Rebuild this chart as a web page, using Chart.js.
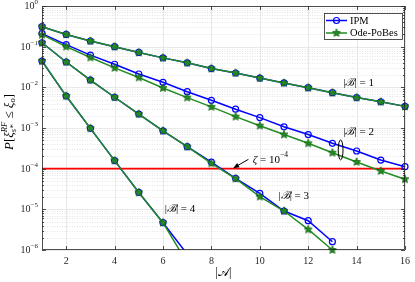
<!DOCTYPE html>
<html>
<head>
<meta charset="utf-8">
<script src="https://cdn.jsdelivr.net/npm/chart.js@4"></script>
<style>
  html, body { margin: 0; padding: 0; background: #fff; }
  #wrap { width: 415px; height: 282px; }
</style>
</head>
<body>
<div id="wrap"><canvas id="chart" width="415" height="282"></canvas></div>
<script>
(function () {
  'use strict';

  // ---- data ----
  const xVals = [1, 2, 3, 4, 5, 6, 7, 8, 9, 10, 11, 12, 13, 14, 15, 16];
  const xTicks = [2, 4, 6, 8, 10, 12, 14, 16];
  const yTickExps = [0, -1, -2, -3, -4, -5, -6];
  const zeta = 1e-4;

  // |B| = 1
  const ipmB1 = [0.31, 0.20, 0.138, 0.100, 0.072, 0.053, 0.040, 0.029, 0.0225, 0.0169, 0.0128, 0.0098, 0.0074, 0.0056, 0.0044, 0.0034];
  const odeB1 = [0.31, 0.20, 0.138, 0.100, 0.072, 0.053, 0.040, 0.029, 0.0225, 0.0169, 0.0128, 0.0098, 0.0074, 0.0056, 0.0044, 0.0034];
  // |B| = 2
  const ipmB2 = [0.21, 0.112, 0.062, 0.037, 0.0213, 0.0133, 0.0078, 0.0048, 0.0029, 0.0018, 0.00107, 0.00069, 0.00042, 0.000272, 0.000163, 0.000112];
  const odeB2 = [0.197, 0.100, 0.054, 0.030, 0.0174, 0.0096, 0.0056, 0.0033, 0.0019, 0.00114, 0.00069, 0.00042, 0.000247, 0.000146, 0.0000877, 0.000055];
  // |B| = 3
  const ipmB3 = [0.125, 0.042, 0.0151, 0.0057, 0.0022, 0.00085, 0.000347, 0.000145, 0.0000578, 0.0000246, 0.0000091, 0.00000525, 0.0000016];
  const odeB3 = [0.125, 0.042, 0.0151, 0.0057, 0.0022, 0.00085, 0.000347, 0.000135, 0.0000570, 0.0000205, 0.0000091, 0.0000032, 0.0000010];
  // |B| = 4
  const ipmB4 = [0.0444, 0.0061, 0.00098, 0.000158, 0.000026, 0.0000047, 0.00000079];
  const odeB4 = [0.0444, 0.0061, 0.00098, 0.000158, 0.000026, 0.0000047, 0.00000048];

  const BLUE = '#0000ff';
  const GREEN = '#228b22';
  const RED = '#ff0000';
  const AXIS = '#262626';
  const SERIF = '"Liberation Serif", "DejaVu Serif", serif';

  const pts = arr => arr.map((v, i) => ({ x: xVals[i], y: v }));

  // filled pentagram marker (matlab 'p')
  function starMarker(r, fill, stroke) {
    const s = Math.ceil(r * 2 + 3);
    const c = document.createElement('canvas');
    c.width = s; c.height = s;
    const g = c.getContext('2d');
    g.beginPath();
    for (let i = 0; i < 10; i++) {
      const a = -Math.PI / 2 + i * Math.PI / 5;
      const rr = i % 2 ? r * 0.45 : r;
      g.lineTo(s / 2 + rr * Math.cos(a), s / 2 + rr * Math.sin(a));
    }
    g.closePath();
    g.fillStyle = fill; g.fill();
    g.lineWidth = 0.8; g.strokeStyle = stroke; g.stroke();
    return c;
  }
  const star = starMarker(4.2, GREEN, '#146414');

  const ipm = (data, clipBottom) => ({
    data: pts(data), borderColor: BLUE, borderWidth: 1.5,
    pointStyle: 'circle', pointRadius: 3, pointBorderWidth: 1.2,
    pointBorderColor: BLUE, pointBackgroundColor: 'rgba(255,255,255,0)',
    clip: { left: 6, right: 6, top: 6, bottom: clipBottom }, order: 2
  });
  const ode = (data, clipBottom) => ({
    data: pts(data), borderColor: GREEN, borderWidth: 1.5,
    pointStyle: star, pointRadius: 4,
    clip: { left: 6, right: 6, top: 6, bottom: clipBottom }, order: 1
  });

  // ---- rich text helpers ----
  const fontOf = r => (r.it ? 'italic ' : '') + r.size + 'px ' + SERIF;
  function drawRuns(ctx, runs, x0, y0, align) {
    let x = 0, held = 0;
    const placed = [];
    runs.forEach(r => {
      ctx.font = fontOf(r);
      const w = ctx.measureText(r.t).width;
      placed.push({ r, x });
      if (r.stack) held = w;
      else { x += Math.max(w, held); held = 0; }
    });
    const sx = align === 'center' ? x0 - x / 2 : align === 'right' ? x0 - x : x0;
    ctx.textAlign = 'left';
    ctx.textBaseline = 'middle';
    placed.forEach(p => {
      ctx.font = fontOf(p.r);
      ctx.fillText(p.r.t, sx + p.x, y0 + (p.r.dy || 0));
    });
  }

  const bLabel = n => [
    { t: '|', size: 11 }, { t: 'ℬ', size: 11, it: true }, { t: '| = ' + n, size: 11 }
  ];
  const curveLabels = [
    { runs: bLabel(1), x: 13.45, y: Math.pow(10, -1.89) },
    { runs: bLabel(2), x: 13.45, y: Math.pow(10, -3.11) },
    { runs: bLabel(3), x: 10.77, y: Math.pow(10, -4.67) },
    { runs: bLabel(4), x: 6.07, y: Math.pow(10, -5.0) }
  ];

  const decor = {
    id: 'decor',
    beforeDatasetsDraw(chart) {
      const { ctx, chartArea: a, scales: { x, y } } = chart;
      ctx.save();
      // minor grid (dotted)
      ctx.strokeStyle = '#d4d4d4';
      ctx.lineWidth = 0.6;
      ctx.setLineDash([1, 1.5]);
      for (let k = -6; k < 0; k++) {
        for (let m = 2; m <= 9; m++) {
          const py = Math.round(y.getPixelForValue(m * Math.pow(10, k))) + 0.5;
          ctx.beginPath(); ctx.moveTo(a.left, py); ctx.lineTo(a.right, py); ctx.stroke();
        }
      }
      // major grid
      ctx.setLineDash([]);
      ctx.strokeStyle = '#e2e2e2';
      ctx.lineWidth = 0.8;
      yTickExps.forEach(e => {
        const py = Math.round(y.getPixelForValue(Math.pow(10, e))) + 0.5;
        ctx.beginPath(); ctx.moveTo(a.left, py); ctx.lineTo(a.right, py); ctx.stroke();
      });
      xTicks.forEach(v => {
        const px = Math.round(x.getPixelForValue(v)) + 0.5;
        ctx.beginPath(); ctx.moveTo(px, a.top); ctx.lineTo(px, a.bottom); ctx.stroke();
      });
      ctx.restore();
    },
    afterDatasetsDraw(chart) {
      const { ctx, chartArea: a, scales: { x, y } } = chart;
      ctx.save();
      // box + inward ticks
      ctx.strokeStyle = AXIS;
      ctx.lineWidth = 0.8;
      ctx.strokeRect(a.left + 0.5, a.top + 0.5, a.right - a.left - 1, a.bottom - a.top - 1);
      const tick = (x1, y1, x2, y2) => { ctx.beginPath(); ctx.moveTo(x1, y1); ctx.lineTo(x2, y2); ctx.stroke(); };
      xTicks.forEach(v => {
        const px = Math.round(x.getPixelForValue(v)) + 0.5;
        tick(px, a.bottom, px, a.bottom - 4);
        tick(px, a.top, px, a.top + 4);
      });
      for (let k = -6; k <= 0; k++) {
        for (let m = 1; m <= 9; m++) {
          const v = m * Math.pow(10, k);
          if (v > 1) break;
          const py = Math.round(y.getPixelForValue(v)) + 0.5;
          const len = m === 1 ? 4 : 2;
          tick(a.left, py, a.left + len, py);
          tick(a.right, py, a.right - len, py);
        }
      }

      // y tick labels 10^k
      ctx.fillStyle = AXIS;
      yTickExps.forEach(e => {
        const py = y.getPixelForValue(Math.pow(10, e));
        drawRuns(ctx, [
          { t: '10', size: 10 },
          { t: e === 0 ? '0' : '\u2212' + (-e), size: 7, dy: -4.5 }
        ], a.left - 4, py + 0.5, 'right');
      });

      // axis titles
      ctx.fillStyle = '#000';
      drawRuns(ctx, [{ t: '|', size: 12 }, { t: '\uD835\uDC9C', size: 12 }, { t: '|', size: 12 }],
        (a.left + a.right) / 2, 273, 'center');
      ctx.save();
      ctx.translate(10, 122);
      ctx.rotate(-Math.PI / 2);
      drawRuns(ctx, [
        { t: 'P', size: 13, it: true }, { t: '[', size: 13 }, { t: 'ξ', size: 13, it: true },
        { t: 'RF', size: 8.5, it: true, dy: -5, stack: true }, { t: 's*', size: 8.5, it: true, dy: 4 },
        { t: ' ≤ ', size: 13 }, { t: 'ξ', size: 13, it: true }, { t: 'o', size: 8.5, it: true, dy: 3 },
        { t: ']', size: 13 }
      ], 0, 0, 'center');
      ctx.restore();

      // curve labels
      curveLabels.forEach(l => drawRuns(ctx, l.runs, x.getPixelForValue(l.x), y.getPixelForValue(l.y), 'left'));

      // ellipse around |B| = 2 curves
      ctx.strokeStyle = '#000';
      ctx.lineWidth = 1;
      ctx.beginPath();
      ctx.ellipse(x.getPixelForValue(13.34), y.getPixelForValue(2.9e-4), 2.4, 10, 0, 0, Math.PI * 2);
      ctx.stroke();

      // zeta annotation + arrow
      const tx = x.getPixelForValue(9.53), ty = y.getPixelForValue(Math.pow(10, -3.77));
      const hx = x.getPixelForValue(8.9), hy = y.getPixelForValue(1.03e-4);
      const ang = Math.atan2(hy - ty, hx - tx);
      ctx.beginPath(); ctx.moveTo(tx, ty); ctx.lineTo(hx - 4 * Math.cos(ang), hy - 4 * Math.sin(ang)); ctx.stroke();
      ctx.fillStyle = '#000';
      ctx.beginPath();
      ctx.moveTo(hx, hy);
      ctx.lineTo(hx - 6 * Math.cos(ang) + 2.5 * Math.sin(ang), hy - 6 * Math.sin(ang) - 2.5 * Math.cos(ang));
      ctx.lineTo(hx - 6 * Math.cos(ang) - 2.5 * Math.sin(ang), hy - 6 * Math.sin(ang) + 2.5 * Math.cos(ang));
      ctx.closePath(); ctx.fill();
      drawRuns(ctx, [
        { t: 'ζ', size: 11, it: true }, { t: ' = 10', size: 11 }, { t: '\u22124', size: 7.5, dy: -4.5 }
      ], x.getPixelForValue(9.71), y.getPixelForValue(Math.pow(10, -3.787)), 'left');

      // legend
      const L = { l: 324, t: 13, r: 403, b: 40 };
      ctx.fillStyle = '#fff';
      ctx.fillRect(L.l, L.t, L.r - L.l, L.b - L.t);
      ctx.strokeStyle = AXIS;
      ctx.lineWidth = 0.8;
      ctx.strokeRect(L.l + 0.5, L.t + 0.5, L.r - L.l - 1, L.b - L.t - 1);
      const rows = [
        { label: 'IPM', color: BLUE, y: 20.5, marker: 'circle' },
        { label: 'Ode-PoBes', color: GREEN, y: 33, marker: 'star' }
      ];
      rows.forEach(rw => {
        ctx.strokeStyle = rw.color;
        ctx.lineWidth = 1.5;
        ctx.beginPath(); ctx.moveTo(326, rw.y); ctx.lineTo(347, rw.y); ctx.stroke();
        if (rw.marker === 'circle') {
          ctx.lineWidth = 1.2;
          ctx.beginPath(); ctx.arc(336.5, rw.y, 3, 0, Math.PI * 2); ctx.stroke();
        } else {
          ctx.drawImage(star, 336.5 - star.width / 2, rw.y - star.height / 2);
        }
        ctx.fillStyle = '#000';
        drawRuns(ctx, [{ t: rw.label, size: 10.5 }], 350, rw.y + 0.5, 'left');
      });
      ctx.restore();
    }
  };

  new Chart(document.getElementById('chart'), {
    type: 'line',
    data: {
      datasets: [
        ipm(ipmB1, 6), ode(odeB1, 6),
        ipm(ipmB2, 6), ode(odeB2, 6),
        ipm(ipmB3, 6), ode(odeB3, 6),
        ipm(ipmB4, 0), ode(odeB4, 0),
        {
          data: [{ x: xVals[0], y: zeta }, { x: xVals[xVals.length - 1], y: zeta }],
          borderColor: RED, borderWidth: 1.8, pointRadius: 0, order: 3
        }
      ]
    },
    options: {
      responsive: false,
      animation: false,
      events: [],
      layout: { padding: { top: 6, right: 5, left: 0, bottom: 0 } },
      plugins: { legend: { display: false }, tooltip: { enabled: false } },
      scales: {
        x: {
          type: 'linear', min: 1, max: 16,
          grid: { display: false, drawTicks: false },
          border: { display: false },
          afterBuildTicks: s => { s.ticks = xTicks.map(v => ({ value: v })); },
          afterFit: s => { s.height = 32; },
          ticks: { font: { family: SERIF, size: 10 }, color: AXIS, padding: 5, maxRotation: 0 }
        },
        y: {
          type: 'logarithmic', min: 1e-6, max: 1,
          grid: { display: false, drawTicks: false },
          border: { display: false },
          ticks: { display: false },
          afterFit: s => { s.width = 42; }
        }
      }
    },
    plugins: [decor]
  });
})();
</script>
</body>
</html>
